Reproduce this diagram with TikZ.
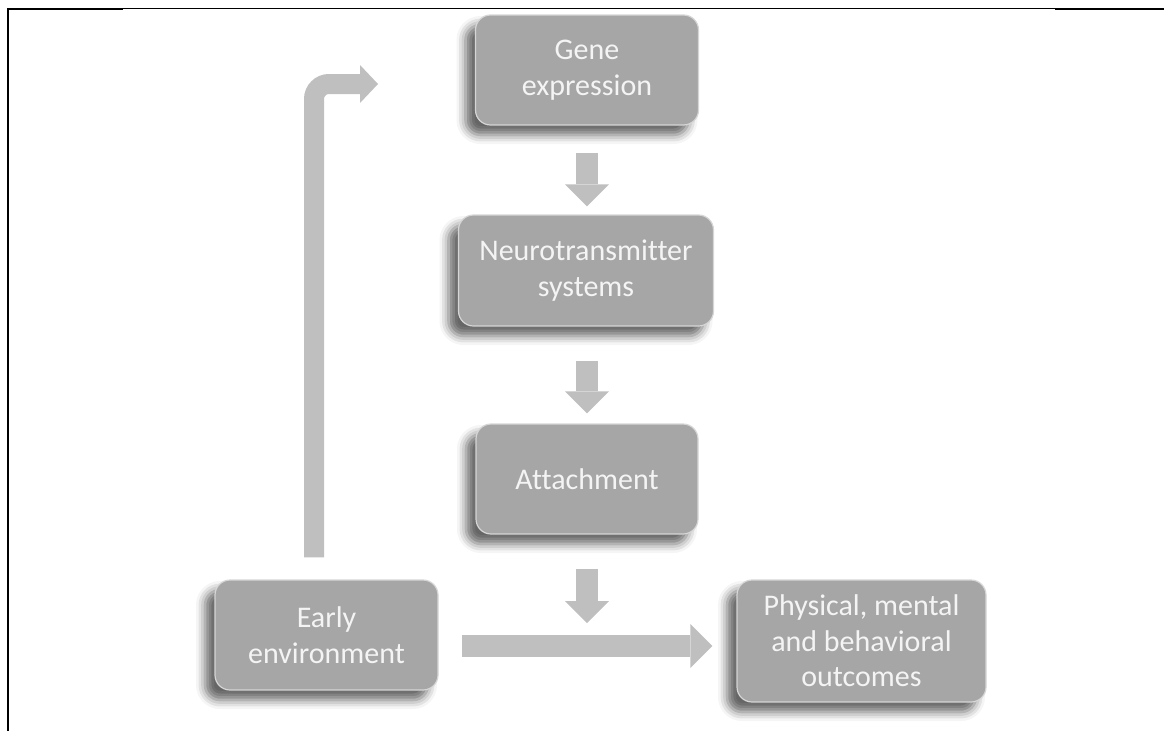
\documentclass[tikz,border=0pt]{standalone}
\usepackage{fontspec}
\setmainfont{Carlito}[Ligatures=NoCommon]
\usetikzlibrary{arrows.meta,calc,shadows.blur}

\definecolor{boxgray}{HTML}{A6A6A6}
\definecolor{arrowgray}{HTML}{BFBFBF}
\definecolor{rimgray}{HTML}{D6D6D6}
\definecolor{textwhite}{HTML}{F4F4F4}

\tikzset{
  stage/.style={rounded corners=15pt, fill=boxgray, draw=rimgray, line width=1.2pt,
    text=textwhite, font=\fontsize{30}{35.5}\selectfont, align=center, inner sep=0pt,
    blur shadow={shadow xshift=-10pt, shadow yshift=-10pt, shadow blur radius=9pt, shadow opacity=60}},
  fat/.style={draw=arrowgray, line width=22pt,
    -{Triangle[length=22pt,width=44pt,line width=0pt]}},
  bent/.style={draw=arrowgray, line width=20pt, rounded corners=15pt,
    -{Triangle[length=18pt,width=38pt,line width=0pt]}},
  thinrule/.style={line width=1.2pt},
  thickrule/.style={line width=2.3pt},
}

\begin{document}
\begin{tikzpicture}[x=1pt,y=-1pt]
\useasboundingbox (0,0) rectangle (1164,731);

% page frame rules
\draw[thinrule] (7,8.5) -- (1164,8.5);
\draw[thickrule] (7,9.2) -- (123,9.2);
\draw[thickrule] (1055,9.2) -- (1164,9.2);
\draw[thickrule] (8.3,8) -- (8.3,731);

% stages
\node[stage, minimum width=223pt, minimum height=110pt] (gene)   at (587,70)    {Gene\\expression};
\node[stage, minimum width=255pt, minimum height=111pt] (neuro)  at (586,270.5) {Neurotransmitter\\systems};
\node[stage, minimum width=222pt, minimum height=110pt] (attach) at (587,479)   {Attachment};
\node[stage, minimum width=223pt, minimum height=110pt] (early)  at (326.5,635) {Early\\environment};
\node[stage, minimum width=249pt, minimum height=122pt] (phys)   at (861.5,641) {Physical, mental\\and behavioral\\outcomes};

% vertical chain
\draw[fat, shorten <=27pt, shorten >=8pt] (gene.south) -- (gene.south |- neuro.north);
\draw[fat, shorten <=34pt, shorten >=10pt] (attach.north |- neuro.south) -- (attach.north);

% main horizontal flow
\coordinate (hs) at ($(early.east)+(0,11)$);
\draw[fat, shorten <=23pt, shorten >=24pt] (hs) -- (hs -| phys.west);

% attachment feeding into the horizontal flow
\coordinate (drop) at ($(attach.south |- hs)+(0,-23)$);
\draw[fat, shorten <=34pt] (attach.south) -- (drop);

% feedback from early environment to gene expression
\coordinate (up0) at ($(early.north)+(-12.5,-22)$);
\coordinate (up1) at (378,84);
\draw[bent] (up0) -- (up0 |- up1) -- (up1);
\end{tikzpicture}
\end{document}
